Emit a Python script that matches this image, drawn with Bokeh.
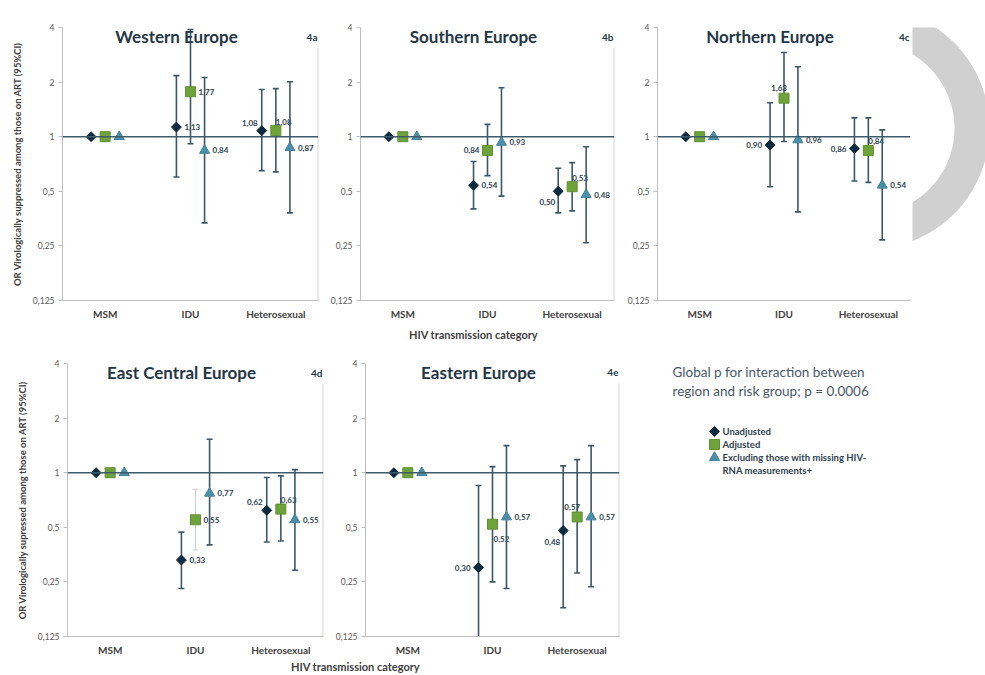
import math

from bokeh.core.properties import value
from bokeh.embed import file_html
from bokeh.layouts import column, row
from bokeh.models import (ColumnDataSource, CustomJSTickFormatter, FactorRange,
                          FixedTicker, Range1d, Span)
from bokeh.plotting import figure
from bokeh.resources import INLINE
from bokeh.transform import dodge

NA = float("nan")

categories = ["MSM", "IDU", "Heterosexual"]
series = ["Unadjusted", "Adjusted", "Excluding those with missing HIV-RNA measurements+"]
y_ticks = [0.125, 0.25, 0.5, 1, 2, 4]

# Odds ratios of being virologically suppressed (MSM = reference) with 95% CI
# 4a Western Europe
we_unadj = [1.00, 1.13, 1.08]
we_unadj_lo = [NA, 0.60, 0.65]
we_unadj_hi = [NA, 2.17, 1.82]
we_adj = [1.00, 1.77, 1.08]
we_adj_lo = [NA, 0.915, 0.64]
we_adj_hi = [NA, 3.90, 1.84]
we_excl = [1.00, 0.84, 0.87]
we_excl_lo = [NA, 0.335, 0.38]
we_excl_hi = [NA, 2.12, 2.01]

# 4b Southern Europe
se_unadj = [1.00, 0.54, 0.50]
se_unadj_lo = [NA, 0.40, 0.38]
se_unadj_hi = [NA, 0.73, 0.67]
se_adj = [1.00, 0.84, 0.53]
se_adj_lo = [NA, 0.61, 0.39]
se_adj_hi = [NA, 1.17, 0.72]
se_excl = [1.00, 0.93, 0.48]
se_excl_lo = [NA, 0.47, 0.26]
se_excl_hi = [NA, 1.86, 0.88]

# 4c Northern Europe
ne_unadj = [1.00, 0.90, 0.86]
ne_unadj_lo = [NA, 0.53, 0.57]
ne_unadj_hi = [NA, 1.54, 1.27]
ne_adj = [1.00, 1.63, 0.84]
ne_adj_lo = [NA, 0.94, 0.56]
ne_adj_hi = [NA, 2.91, 1.27]
ne_excl = [1.00, 0.96, 0.54]
ne_excl_lo = [NA, 0.385, 0.27]
ne_excl_hi = [NA, 2.43, 1.09]

# 4d East Central Europe
ec_unadj = [1.00, 0.33, 0.62]
ec_unadj_lo = [NA, 0.23, 0.415]
ec_unadj_hi = [NA, 0.47, 0.94]
ec_adj = [1.00, 0.55, 0.63]
ec_adj_lo = [NA, 0.375, 0.42]
ec_adj_hi = [NA, 0.81, 0.96]
ec_excl = [1.00, 0.77, 0.55]
ec_excl_lo = [NA, 0.40, 0.29]
ec_excl_hi = [NA, 1.53, 1.04]

# 4e Eastern Europe
ee_unadj = [1.00, 0.30, 0.48]
ee_unadj_lo = [NA, 0.11, 0.18]
ee_unadj_hi = [NA, 0.85, 1.09]
ee_adj = [1.00, 0.52, 0.57]
ee_adj_lo = [NA, 0.25, 0.28]
ee_adj_hi = [NA, 1.08, 1.18]
ee_excl = [1.00, 0.57, 0.57]
ee_excl_lo = [NA, 0.23, 0.235]
ee_excl_hi = [NA, 1.41, 1.41]

# ---------------------------------------------------------------- styles
FONT = "Lato"
TITLE_COLOR = "#243746"
TICK_COLOR = "#595959"
AXIS_TEXT = "#404040"
AXIS_LINE = "#bfbfbf"
REF_LINE = "#3e5b6b"
BAR_COLOR = "#3b5866"
FAINT_BAR = "#c9d1d5"
VALUE_TEXT = "#2e3f4e"

MARKERS = [
    dict(marker="square", angle=math.pi / 4, size=7, fill_color="#0e2a3f", line_color="#0e2a3f"),
    dict(marker="square", angle=0.0, size=10, fill_color="#6ea23a", line_color="#5f9130"),
    dict(marker="triangle", angle=0.0, size=10, fill_color="#4a90aa", line_color="#3f8098"),
]
DODGE = [-0.165, 0.0, 0.165]

# value label placement: (dx, dy downwards, align)
PLACES = {
    "r": (8, 0, "left"),
    "l": (-8, 0, "right"),
    "la": (-4, -8, "right"),
    "lb": (-3, 11, "right"),
    "a": (0, -9, "left"),
    "al": (3, -10, "right"),
    "b": (1, 15, "left"),
}


def fmt(v):
    return f"{v:.2f}".replace(".", ",")


def build_panel(title, tag, data, places, width, height, borders,
                y_label=None, edge_line=True, faint=()):
    left, right, top, bottom = borders
    p = figure(width=width, height=height,
               x_range=FactorRange(factors=categories),
               y_axis_type="log", y_range=Range1d(0.125, 4),
               output_backend="svg", toolbar_location=None,
               min_border_left=left, min_border_right=right,
               min_border_top=top, min_border_bottom=bottom)
    p.xgrid.visible = False
    p.ygrid.visible = False
    p.outline_line_color = None
    p.background_fill_color = "white"
    p.border_fill_color = "white"

    # y axis
    yax = p.yaxis[0]
    yax.ticker = FixedTicker(ticks=y_ticks, minor_ticks=[])
    yax.formatter = CustomJSTickFormatter(code="return String(tick).replace('.', ',')")
    yax.axis_line_color = AXIS_LINE
    yax.major_tick_line_color = AXIS_LINE
    yax.major_tick_out = 4
    yax.major_tick_in = 0
    yax.minor_tick_line_color = None
    yax.major_label_standoff = 4
    yax.major_label_text_font = FONT
    yax.major_label_text_font_size = "8.5px"
    yax.major_label_text_color = TICK_COLOR
    if y_label:
        yax.axis_label = y_label
        yax.axis_label_text_font = FONT
        yax.axis_label_text_font_size = "9.5px"
        yax.axis_label_text_font_style = "bold"
        yax.axis_label_text_color = AXIS_TEXT
        yax.axis_label_standoff = 7

    # x axis
    xax = p.xaxis[0]
    xax.axis_line_color = AXIS_LINE
    xax.major_tick_line_color = None
    xax.major_tick_out = 0
    xax.major_tick_in = 0
    xax.major_label_standoff = 7
    xax.major_label_text_font = FONT
    xax.major_label_text_font_size = "10px"
    xax.major_label_text_font_style = "bold"
    xax.major_label_text_color = AXIS_TEXT

    # reference line at OR = 1
    p.add_layout(Span(location=1, dimension="width", line_color=REF_LINE, line_width=1.4))

    if edge_line:
        p.segment(x0=[2.996], y0=[0.125], x1=[2.996], y1=[3.1],
                  line_color=AXIS_LINE, line_width=1)

    for k, (vals, lo, hi) in enumerate(data):
        codes = [None] + list(places[k])
        dx = [PLACES[c][0] if c else 0 for c in codes]
        dy = [PLACES[c][1] if c else 0 for c in codes]
        al = [PLACES[c][2] if c else "left" for c in codes]
        txt = ["" if c is None else fmt(v) for c, v in zip(codes, vals)]
        faint_rows = [(cat, k) in faint for cat in categories]
        src = ColumnDataSource(dict(
            cat=categories, v=vals, lo=lo, hi=hi, txt=txt, dx=dx, dy=dy, al=al,
            bar=[FAINT_BAR if f else BAR_COLOR for f in faint_rows],
            bw=[1.0 if f else 1.6 for f in faint_rows],
        ))
        xs = dodge("cat", DODGE[k], range=p.x_range)
        p.segment(x0=xs, y0="lo", x1=xs, y1="hi", source=src,
                  line_color="bar", line_width="bw")
        for end in ("lo", "hi"):
            p.scatter(x=xs, y=end, source=src, marker="dash", size=6,
                      line_color="bar", line_width="bw")
        p.scatter(x=xs, y="v", source=src, **MARKERS[k])
        p.text(x=xs, y="v", text="txt", source=src, x_offset="dx", y_offset="dy",
               text_align="al", text_baseline="middle",
               text_font=value(FONT), text_font_size="8px",
               text_font_style="bold", text_color=VALUE_TEXT)

    # panel title and tag
    p.text(x=["IDU"], y=[4], text=[title], x_offset=-14, y_offset=9,
           text_align="center", text_baseline="middle",
           text_font=value(FONT), text_font_size="17px", text_font_style="bold",
           text_color=TITLE_COLOR)
    p.text(x=[3], y=[4], text=[tag], x_offset=-1, y_offset=9,
           text_align="right", text_baseline="middle",
           text_font=value(FONT), text_font_size="10px", text_font_style="bold",
           text_color=TITLE_COLOR)
    return p


def blank(width, height, xr, yr):
    p = figure(width=width, height=height, x_range=xr, y_range=yr,
               output_backend="svg", toolbar_location=None,
               x_axis_location=None, y_axis_location=None,
               min_border=0, min_border_left=0, min_border_right=0,
               min_border_top=0, min_border_bottom=0)
    p.xgrid.visible = False
    p.ygrid.visible = False
    p.outline_line_color = None
    p.background_fill_color = "white"
    p.border_fill_color = "white"
    return p


YLAB_TOP = "OR Virologically suppressed among those on ART (95%CI)"
YLAB_BOTTOM = "OR Virologically supressed among those on ART (95%CI)"

p_we = build_panel("Western Europe", "4a",
                   [(we_unadj, we_unadj_lo, we_unadj_hi),
                    (we_adj, we_adj_lo, we_adj_hi),
                    (we_excl, we_excl_lo, we_excl_hi)],
                   [("r", "la"), ("r", "a"), ("r", "r")],
                   320, 325, (62, 2, 27, 25), y_label=YLAB_TOP)
p_se = build_panel("Southern Europe", "4b",
                   [(se_unadj, se_unadj_lo, se_unadj_hi),
                    (se_adj, se_adj_lo, se_adj_hi),
                    (se_excl, se_excl_lo, se_excl_hi)],
                   [("r", "lb"), ("l", "a"), ("r", "r")],
                   302, 325, (40, 8, 27, 25))
p_ne = build_panel("Northern Europe", "4c",
                   [(ne_unadj, ne_unadj_lo, ne_unadj_hi),
                    (ne_adj, ne_adj_lo, ne_adj_hi),
                    (ne_excl, ne_excl_lo, ne_excl_hi)],
                   [("l", "l"), ("al", "a"), ("r", "r")],
                   290, 325, (35, 2, 27, 25), edge_line=False)
p_ec = build_panel("East Central Europe", "4d",
                   [(ec_unadj, ec_unadj_lo, ec_unadj_hi),
                    (ec_adj, ec_adj_lo, ec_adj_hi),
                    (ec_excl, ec_excl_lo, ec_excl_hi)],
                   [("r", "la"), ("r", "a"), ("r", "r")],
                   330, 313, (67, 7, 18, 21), y_label=YLAB_BOTTOM,
                   faint={("IDU", 1)})
p_ee = build_panel("Eastern Europe", "4e",
                   [(ee_unadj, ee_unadj_lo, ee_unadj_hi),
                    (ee_adj, ee_adj_lo, ee_adj_hi),
                    (ee_excl, ee_excl_lo, ee_excl_hi)],
                   [("l", "lb"), ("b", "al"), ("r", "r")],
                   310, 313, (35, 21, 18, 21))

# decorative grey arc at the right edge of the slide
p_arc = blank(73, 325, Range1d(912, 985), Range1d(-325, 0))
p_arc.annular_wedge(x=868, y=-120, inner_radius=86, outer_radius=121,
                    start_angle=-2.2, end_angle=1.9,
                    fill_color="#d0d0d0", line_color=None)

# x-axis captions
cap_kw = dict(text_align="center", text_baseline="middle", text_font=value(FONT),
              text_font_size="11px", text_font_style="bold", text_color=AXIS_TEXT)
cap_top = blank(985, 20, Range1d(0, 985), Range1d(20, 0))
cap_top.text(x=[473], y=[9], text=["HIV transmission category"], **cap_kw)
cap_bottom = blank(640, 17, Range1d(0, 640), Range1d(17, 0))
cap_bottom.text(x=[355], y=[8], text=["HIV transmission category"], **cap_kw)

# interaction note and legend
p_note = blank(345, 330, Range1d(640, 985), Range1d(675, 345))
note_kw = dict(text_align="left", text_baseline="middle", text_font=value(FONT),
               text_font_size="13.5px", text_color="#4a5866")
p_note.text(x=[672, 672], y=[371, 390],
            text=["Global p for interaction between",
                  "region and risk group; p = 0.0006"], **note_kw)
leg_y = [431, 444, 457]
for k in range(3):
    p_note.scatter(x=[714], y=[leg_y[k]], **MARKERS[k])
leg_kw = dict(text_align="left", text_baseline="middle", text_font=value(FONT),
              text_font_size="9.5px", text_font_style="bold", text_color=VALUE_TEXT)
p_note.text(x=[722, 722, 722, 722], y=[431, 444, 457, 470],
            text=["Unadjusted", "Adjusted", "Excluding those with missing HIV-",
                  "RNA measurements+"], **leg_kw)

layout = column(
    row(p_we, p_se, p_ne, p_arc),
    cap_top,
    row(column(row(p_ec, p_ee), cap_bottom), p_note),
)

with open("out.html", "w") as f:
    f.write(file_html(layout, INLINE))
